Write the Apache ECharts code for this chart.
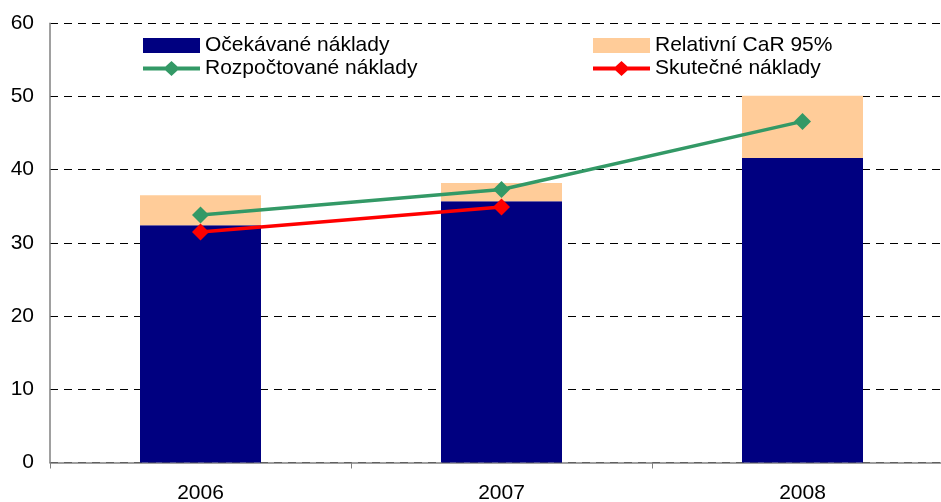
<!DOCTYPE html>
<html><head><meta charset="utf-8">
<script src="https://cdn.jsdelivr.net/npm/echarts@6/dist/echarts.min.js"></script>
<style>html,body{margin:0;padding:0;background:#fff}#c{width:941px;height:502px}</style>
</head><body><div id="c"></div>
<script>
var categories = ['2006', '2007', '2008'];
var expected = [32.4, 35.7, 41.6];
var car95 = [4.1, 2.5, 8.5];
var budgeted = [33.8, 37.3, 46.6];
var actual = [31.5, 34.9, null];
var yTicks = [0, 10, 20, 30, 40, 50, 60];

var font = '"Liberation Sans", Arial, sans-serif';
var chart = echarts.init(document.getElementById('c'));
var legText = {fontSize: 21, color: '#000', fontFamily: font};
var lineIcon = 'path://M0,5.5L22.5,5.5L28.5,0L34.5,5.5L57,5.5L57,9.5L34.5,9.5L28.5,15L22.5,9.5L0,9.5Z';
chart.setOption({
  animation: false,
  backgroundColor: '#fff',
  textStyle: {fontFamily: font},
  grid: {left: 50, top: 23.3, height: 439.2, width: 903, containLabel: false, outerBoundsMode: 'none'},
  legend: [
    {left: 143, top: 35, padding: 0, orient: 'vertical', itemWidth: 57, itemHeight: 15, itemGap: 2,
     textStyle: legText,
     data: [{name: 'Očekávané náklady', icon: 'rect'},
            {name: 'Rozpočtované náklady', icon: lineIcon}]},
    {left: 593, top: 35, padding: 0, orient: 'vertical', itemWidth: 57, itemHeight: 15, itemGap: 2,
     textStyle: legText,
     data: [{name: 'Relativní CaR 95%', icon: 'rect'},
            {name: 'Skutečné náklady', icon: lineIcon}]}
  ],
  xAxis: {
    type: 'category', data: categories, boundaryGap: true,
    axisLine: {lineStyle: {color: '#808080', width: 1.5}},
    axisTick: {show: true, length: 6, lineStyle: {color: '#808080'}},
    axisLabel: {fontSize: 21, color: '#000', margin: 20, fontFamily: font}
  },
  yAxis: {
    type: 'value', min: yTicks[0], max: yTicks[yTicks.length - 1], interval: 10,
    axisLine: {show: true, lineStyle: {color: '#808080', width: 1.5}},
    axisTick: {show: false},
    axisLabel: {fontSize: 21, color: '#000', margin: 16, fontFamily: font},
    splitLine: {show: true, lineStyle: {color: '#000', type: [8, 6], width: 1}}
  },
  series: [
    {name: 'Očekávané náklady', type: 'bar', stack: 's', data: expected, barWidth: 121,
     itemStyle: {color: '#000080'}},
    {name: 'Relativní CaR 95%', type: 'bar', stack: 's', data: car95, barWidth: 121,
     itemStyle: {color: '#FFCC99'}},
    {name: 'Rozpočtované náklady', type: 'line', data: budgeted, symbol: 'diamond', symbolSize: 17,
     lineStyle: {color: '#339966', width: 3.5}, itemStyle: {color: '#339966'}, z: 5},
    {name: 'Skutečné náklady', type: 'line', data: actual, symbol: 'diamond', symbolSize: 17,
     lineStyle: {color: '#FF0000', width: 3.5}, itemStyle: {color: '#FF0000'}, z: 6}
  ]
});
</script></body></html>
